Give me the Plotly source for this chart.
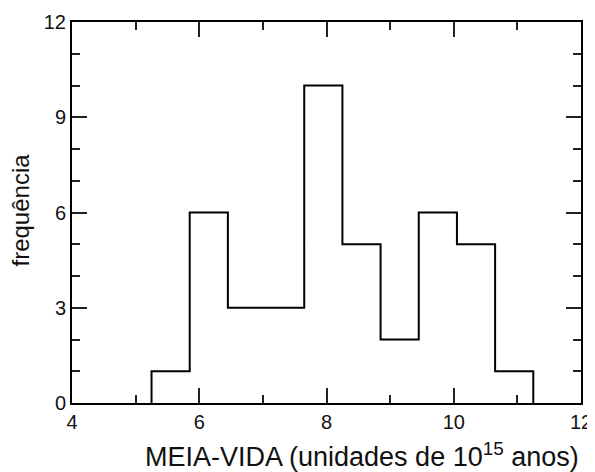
import plotly.graph_objects as go

bin_edges = [5.25, 5.85, 6.45, 7.05, 7.65, 8.25, 8.85, 9.45, 10.05, 10.65, 11.25]
counts = [1, 6, 3, 3, 10, 5, 2, 6, 5, 1]
x_ticks = [4, 6, 8, 10, 12]
y_ticks = [0, 3, 6, 9, 12]

xs = [bin_edges[0]] + bin_edges[:-1] + [bin_edges[-1], bin_edges[-1]]
ys = [0] + counts + [counts[-1], 0]

fig = go.Figure(go.Scatter(x=xs, y=ys, mode="lines", line=dict(color="black", width=2, shape="hv"),
                           showlegend=False, hoverinfo="skip"))

font = dict(family="Liberation Sans, Arial, sans-serif", color="#111")
axis_common = dict(showline=True, linecolor="black", linewidth=2, mirror="allticks",
                   ticks="inside", ticklen=15, tickwidth=2, tickcolor="#222",
                   showgrid=False, zeroline=False, tickfont=dict(size=20, **font),
                   automargin=False)
fig.update_xaxes(range=[4, 12], tickvals=x_ticks,
                 minor=dict(dtick=1, tick0=0, ticks="inside", ticklen=8, tickwidth=2, tickcolor="#222"),
                 **axis_common)
fig.update_yaxes(range=[0, 12], tickvals=y_ticks,
                 minor=dict(dtick=1, tick0=0, ticks="inside", ticklen=8, tickwidth=2, tickcolor="#222"),
                 **axis_common)
fig.add_annotation(text="MEIA-VIDA (unidades de 10<sup>15</sup> anos)", xref="paper", yref="paper",
                   x=0.5, y=0, yshift=-52, xshift=35, showarrow=False, yanchor="middle",
                   font=dict(size=27, **font))
fig.add_annotation(text="frequência", xref="paper", yref="paper", x=0, y=0.5, xshift=-52,
                   yshift=2, showarrow=False, textangle=-90, xanchor="center", font=dict(size=24, **font))
# page has an 8px body margin, so the figure is sized/offset to compensate
fig.update_layout(width=587, height=464, margin=dict(l=64, r=14, t=14, b=69),
                  plot_bgcolor="white", paper_bgcolor="white")
fig.write_html("out.html")
